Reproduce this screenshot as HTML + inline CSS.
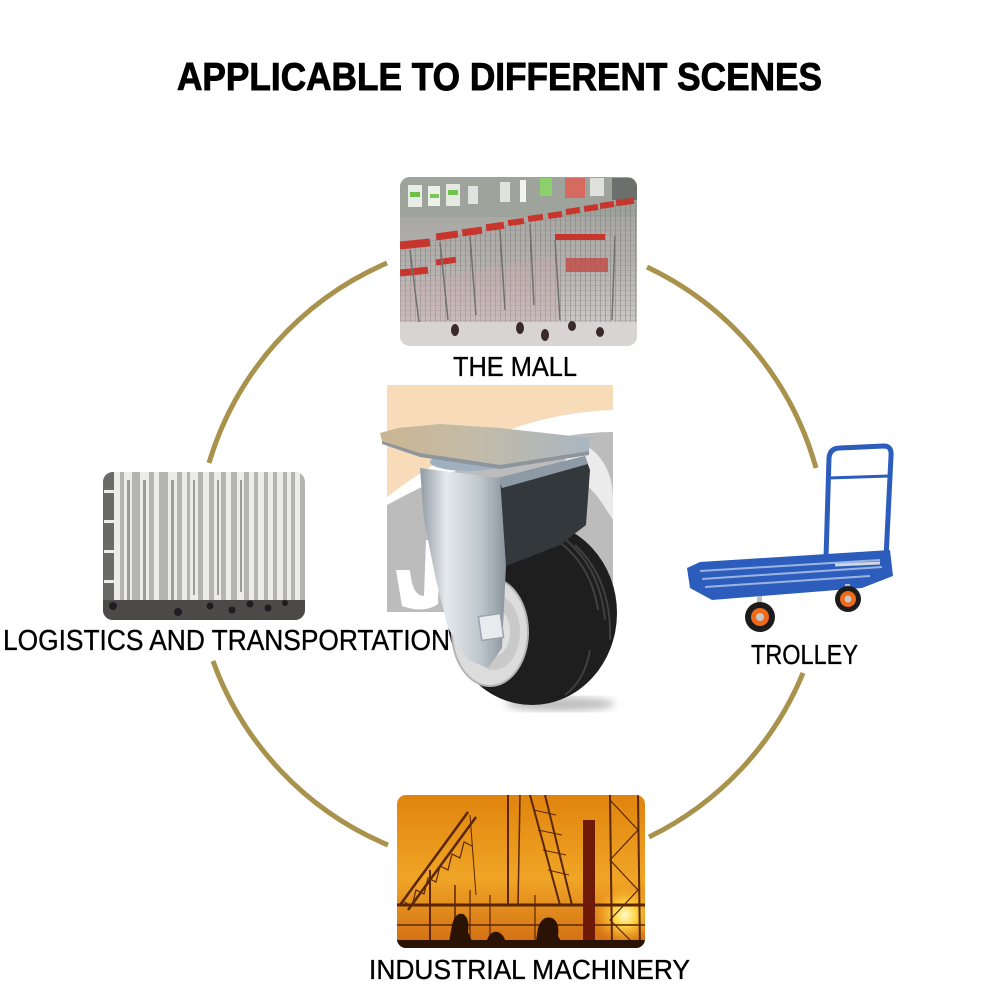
<!DOCTYPE html>
<html>
<head>
<meta charset="utf-8">
<style>
html,body{margin:0;padding:0;background:#fff;}
svg{display:block;}
text{font-family:"Liberation Sans",Arial,sans-serif;fill:#000;}
</style>
</head>
<body>
<svg width="1000" height="1000" viewBox="0 0 1000 1000" xmlns="http://www.w3.org/2000/svg">
<defs>
  <clipPath id="cm"><rect x="400" y="177" width="237" height="169" rx="10"/></clipPath>
  <clipPath id="cl"><rect x="103" y="472" width="202" height="148" rx="10"/></clipPath>
  <clipPath id="ci"><rect x="397" y="795" width="248" height="153" rx="9"/></clipPath>
  <clipPath id="cw"><rect x="387" y="385" width="226" height="227"/></clipPath>
  <linearGradient id="gi" x1="0" y1="0" x2="0" y2="1">
    <stop offset="0" stop-color="#e0840e"/>
    <stop offset="0.55" stop-color="#f0a526"/>
    <stop offset="1" stop-color="#d06a12"/>
  </linearGradient>
  <radialGradient id="sun" cx="0.5" cy="0.5" r="0.5">
    <stop offset="0" stop-color="#fffbd0"/>
    <stop offset="0.35" stop-color="#ffd848"/>
    <stop offset="1" stop-color="#ffb020" stop-opacity="0"/>
  </radialGradient>
  <linearGradient id="gm" x1="0" y1="0" x2="0" y2="1">
    <stop offset="0" stop-color="#9ea19a"/>
    <stop offset="0.5" stop-color="#b4b0ae"/>
    <stop offset="1" stop-color="#d4d0d0"/>
  </linearGradient>
  <pattern id="mesh" width="5" height="5" patternUnits="userSpaceOnUse">
    <rect width="5" height="5" fill="none"/>
    <line x1="0" y1="0" x2="0" y2="5" stroke="#7a7a7a" stroke-width="1"/>
    <line x1="0" y1="0" x2="5" y2="0" stroke="#8a8a8a" stroke-width="0.6"/>
  </pattern>
  <linearGradient id="plate" x1="0" y1="0" x2="1" y2="0">
    <stop offset="0" stop-color="#cbb692"/>
    <stop offset="0.45" stop-color="#c3bba8"/>
    <stop offset="1" stop-color="#a9b6c1"/>
  </linearGradient>
  <linearGradient id="fork" x1="0" y1="0" x2="1" y2="0">
    <stop offset="0" stop-color="#8f98a1"/>
    <stop offset="0.3" stop-color="#e4e9ee"/>
    <stop offset="0.7" stop-color="#bfc6cd"/>
    <stop offset="1" stop-color="#8a939c"/>
  </linearGradient>
  <filter id="blur"><feGaussianBlur stdDeviation="4"/></filter>
</defs>

<!-- Title -->
<text x="177" y="90" font-size="39" font-weight="bold" stroke="#000" stroke-width="0.9" textLength="645" lengthAdjust="spacingAndGlyphs">APPLICABLE TO DIFFERENT SCENES</text>

<!-- Circle arcs -->
<g fill="none" stroke="#a8924c" stroke-width="5">
  <path d="M387,263 A316,316 0 0 0 209,463"/>
  <path d="M647,267 A316,316 0 0 1 816,468"/>
  <path d="M803,673 A316,316 0 0 1 649,837"/>
  <path d="M388,845 A316,316 0 0 1 213,661"/>
</g>

<!-- Mall photo -->
<g clip-path="url(#cm)">
  <rect x="400" y="177" width="237" height="169" fill="url(#gm)"/>
  <rect x="400" y="177" width="237" height="40" fill="#9ea39b"/>
  <rect x="408" y="185" width="14" height="22" fill="#e8ece6"/>
  <rect x="410" y="192" width="10" height="5" fill="#6fbf4a"/>
  <rect x="428" y="186" width="12" height="20" fill="#eef0ea"/>
  <rect x="430" y="194" width="9" height="4" fill="#7cc657"/>
  <rect x="446" y="184" width="14" height="22" fill="#e5e9e2"/>
  <rect x="448" y="190" width="10" height="5" fill="#72c24e"/>
  <rect x="468" y="186" width="10" height="18" fill="#e0e4de"/>
  <rect x="500" y="182" width="10" height="20" fill="#dfe3dc"/>
  <rect x="520" y="180" width="6" height="22" fill="#f2f2f0"/>
  <rect x="540" y="178" width="12" height="18" fill="#8bd06a"/>
  <rect x="565" y="178" width="20" height="20" fill="#d56a60"/>
  <rect x="590" y="178" width="14" height="18" fill="#e0e0dc"/>
  <rect x="612" y="178" width="25" height="22" fill="#6d6f6c"/>
  <!-- wire mesh body -->
  <polygon points="400,245 637,200 637,325 400,335" fill="url(#mesh)" opacity="0.95"/>
  <polygon points="400,285 560,255 560,320 400,340" fill="#c9a5a5" opacity="0.35"/>
  <!-- red handles -->
  <g fill="#c8352c">
    <rect x="400" y="240" width="30" height="8" transform="rotate(-6 415 244)"/>
    <rect x="400" y="268" width="28" height="7" transform="rotate(-6 415 271)"/>
    <rect x="436" y="232" width="22" height="7" transform="rotate(-8 447 235)"/>
    <rect x="436" y="258" width="20" height="6" transform="rotate(-8 447 261)"/>
    <rect x="462" y="228" width="20" height="7" transform="rotate(-8 472 231)"/>
    <rect x="486" y="223" width="18" height="7" transform="rotate(-8 495 226)"/>
    <rect x="508" y="219" width="16" height="6" transform="rotate(-8 516 222)"/>
    <rect x="528" y="215" width="15" height="6" transform="rotate(-8 535 218)"/>
    <rect x="548" y="212" width="14" height="6" transform="rotate(-8 555 215)"/>
    <rect x="566" y="208" width="14" height="6" transform="rotate(-8 573 211)"/>
    <rect x="584" y="205" width="14" height="6" transform="rotate(-8 591 208)"/>
    <rect x="600" y="202" width="14" height="6" transform="rotate(-8 607 205)"/>
    <rect x="616" y="199" width="18" height="6" transform="rotate(-8 625 202)"/>
    <rect x="555" y="234" width="50" height="6"/>
    <rect x="566" y="258" width="42" height="14" fill="#c24a44" opacity="0.8"/>
  </g>
  <g stroke="#707070" stroke-width="1.5">
    <line x1="410" y1="250" x2="420" y2="330"/>
    <line x1="440" y1="242" x2="448" y2="320"/>
    <line x1="470" y1="236" x2="476" y2="315"/>
    <line x1="500" y1="230" x2="505" y2="310"/>
    <line x1="530" y1="224" x2="534" y2="305"/>
    <line x1="555" y1="240" x2="560" y2="320"/>
    <line x1="615" y1="236" x2="612" y2="320"/>
  </g>
  <rect x="400" y="322" width="237" height="24" fill="#d8d4d4"/>
  <g fill="#3a2a2a">
    <ellipse cx="455" cy="330" rx="4" ry="6"/>
    <ellipse cx="520" cy="328" rx="4" ry="6"/>
    <ellipse cx="545" cy="335" rx="4" ry="6"/>
    <ellipse cx="572" cy="326" rx="4" ry="5"/>
    <ellipse cx="600" cy="332" rx="4" ry="5"/>
  </g>
</g>

<!-- Logistics photo -->
<g clip-path="url(#cl)">
  <rect x="103" y="472" width="202" height="148" fill="#b4b4b2"/>
  <rect x="103" y="472" width="12" height="148" fill="#6a6a68"/>
  <g fill="#ececea">
    <rect x="104" y="490" width="12" height="3"/>
    <rect x="104" y="520" width="12" height="3"/>
    <rect x="104" y="550" width="12" height="3"/>
    <rect x="104" y="580" width="12" height="3"/>
    <rect x="114" y="472" width="6" height="130"/>
    <rect x="124" y="472" width="8" height="140"/>
    <rect x="140" y="472" width="9" height="140"/>
    <rect x="154" y="472" width="5" height="140"/>
    <rect x="168" y="472" width="9" height="140"/>
    <rect x="182" y="472" width="5" height="140"/>
    <rect x="190" y="472" width="8" height="135"/>
    <rect x="203" y="472" width="6" height="135"/>
    <rect x="214" y="472" width="7" height="135"/>
    <rect x="226" y="472" width="5" height="135"/>
    <rect x="237" y="472" width="7" height="132"/>
    <rect x="249" y="472" width="5" height="132"/>
    <rect x="258" y="472" width="6" height="130"/>
    <rect x="268" y="472" width="5" height="130"/>
    <rect x="277" y="472" width="6" height="128"/>
    <rect x="287" y="472" width="4" height="128"/>
    <rect x="295" y="472" width="5" height="128"/>
  </g>
  <g fill="#9c9c9a">
    <rect x="127" y="480" width="3" height="120"/>
    <rect x="143" y="480" width="3" height="120"/>
    <rect x="171" y="480" width="3" height="120"/>
    <rect x="193" y="480" width="2" height="115"/>
    <rect x="217" y="480" width="2" height="115"/>
    <rect x="240" y="480" width="2" height="112"/>
  </g>
  <rect x="103" y="600" width="202" height="20" fill="#4c4a48"/>
  <g fill="#1e1e22">
    <circle cx="113" cy="606" r="4"/>
    <circle cx="178" cy="612" r="4"/>
    <circle cx="210" cy="606" r="3.5"/>
    <circle cx="232" cy="610" r="3.5"/>
    <circle cx="250" cy="604" r="3.5"/>
    <circle cx="268" cy="608" r="3.5"/>
    <circle cx="285" cy="603" r="3"/>
  </g>
</g>

<!-- Industrial photo -->
<g clip-path="url(#ci)">
  <rect x="397" y="795" width="248" height="153" fill="url(#gi)"/>
  <circle cx="625" cy="915" r="30" fill="url(#sun)"/>
  <g stroke="#5a2606" fill="none">
    <path d="M400,905 L468,812 M408,910 L476,817" stroke-width="2.5"/>
    <path d="M404,902 L412,906 L416,890 L424,894 L428,878 L436,882 L440,866 L448,870 L452,854 L460,858 L464,842 L472,846" stroke-width="1.2"/>
    <line x1="470" y1="815" x2="476" y2="895" stroke-width="1"/>
    <line x1="508" y1="795" x2="508" y2="905" stroke-width="2"/>
    <line x1="520" y1="795" x2="518" y2="905" stroke-width="1.5"/>
    <path d="M530,795 L560,905 M545,795 L572,905" stroke-width="2"/>
    <path d="M534,810 L556,815 M538,830 L562,835 M543,850 L566,855 M548,870 L569,875" stroke-width="1"/>
    <path d="M610,795 L612,948 M638,795 L640,948" stroke-width="2"/>
    <path d="M610,800 L638,830 L610,860 L638,890 L610,920 L638,948" stroke-width="1.2"/>
    <line x1="397" y1="905" x2="645" y2="905" stroke-width="3"/>
    <line x1="397" y1="925" x2="645" y2="925" stroke-width="1.5"/>
    <line x1="430" y1="870" x2="430" y2="948" stroke-width="2"/>
    <line x1="455" y1="885" x2="455" y2="948" stroke-width="1.5"/>
    <line x1="470" y1="890" x2="470" y2="948" stroke-width="1.2"/>
    <line x1="490" y1="895" x2="490" y2="948" stroke-width="1.2"/>
    <line x1="535" y1="895" x2="535" y2="948" stroke-width="1.2"/>
  </g>
  <rect x="583" y="820" width="12" height="128" fill="#6e1a08"/>
  <g fill="#2a1204">
    <path d="M448,948 L452,925 Q455,912 463,914 Q470,918 468,932 L475,948 Z"/>
    <path d="M485,948 Q488,930 498,932 Q507,936 505,948 Z"/>
    <path d="M535,948 L538,928 Q542,915 552,918 Q560,922 558,936 L565,948 Z"/>
    <rect x="397" y="940" width="248" height="8"/>
  </g>
</g>

<!-- Watermark behind caster -->
<g clip-path="url(#cw)">
  <rect x="387" y="385" width="226" height="227" fill="#bcbcbc"/>
  <path d="M387,385 L613,385 L613,410 C540,412 460,440 387,497 Z" fill="#f8dbb8"/>
  <path d="M387,497 C460,440 540,412 613,410 L613,432 C545,432 470,460 387,505 Z" fill="#ffffff"/>
  <path d="M575,440 C600,450 613,470 613,500 L613,520 C600,500 590,480 560,470 Z" fill="#ffffff" opacity="0.7"/>
  <path d="M396,570 L410,570 Q412,596 424,596 L426,540 L440,540 L438,604 Q424,614 402,606 Z" fill="#ffffff"/>
</g>

<!-- Caster wheel -->
<ellipse cx="560" cy="704" rx="55" ry="7" fill="#888" opacity="0.55" filter="url(#blur)"/>
<ellipse cx="532" cy="613" rx="85" ry="92" fill="#1e1e1e"/>
<g stroke="#404040" stroke-width="2" fill="none">
  <path d="M560,535 Q600,565 605,620"/>
  <path d="M575,545 Q612,580 610,640"/>
  <path d="M540,530 Q590,555 598,610"/>
  <path d="M590,650 Q585,680 565,695"/>
</g>
<ellipse cx="490" cy="632" rx="38" ry="54" fill="#dcdcdc" stroke="#b4b4b4" stroke-width="2"/>
<ellipse cx="494" cy="632" rx="26" ry="38" fill="#c9c9c9"/>
<ellipse cx="494" cy="632" rx="16" ry="24" fill="#e0e0e0"/>
<!-- fork right dark side -->
<polygon points="498,478 585,456 590,470 586,525 560,545 506,566" fill="#33383d"/>
<polygon points="498,478 585,456 588,464 502,488" fill="#8e9aa5"/>
<!-- fork front silver -->
<polygon points="420,468 500,478 506,566 502,648 488,668 468,660 448,628 436,580 424,520" fill="url(#fork)"/>
<rect x="480" y="615" width="22" height="24" fill="#e8ecef" stroke="#9aa3ab" stroke-width="1.5" transform="rotate(-8 491 627)"/>
<!-- swivel -->
<ellipse cx="468" cy="462" rx="38" ry="9" fill="#9fb1c0"/>
<rect x="455" y="448" width="30" height="14" fill="#8ea4b6"/>
<!-- top plate -->
<polygon points="380,433 398,428 440,424 500,428 590,438 589,451 500,465 420,453 382,441" fill="url(#plate)"/>
<polygon points="382,441 420,453 500,465 589,451 589,455 500,469 420,457 382,444" fill="#8e969c"/>

<!-- Trolley -->
<g>
  <path d="M826,558 L829,458 Q830,448 840,448 L884,446 Q892,446 891,456 L886,558" fill="none" stroke="#2c5dbd" stroke-width="5"/>
  <line x1="828" y1="478" x2="889" y2="476" stroke="#2c5dbd" stroke-width="3"/>
  <polygon points="687,568 700,562 890,550 893,576 862,588 712,600 690,588" fill="#2c5dbd"/>
  <g stroke="#9bb3e0" stroke-width="2">
    <line x1="700" y1="571" x2="880" y2="560"/>
    <line x1="702" y1="579" x2="882" y2="567"/>
    <line x1="705" y1="587" x2="870" y2="576"/>
  </g>
  <line x1="835" y1="565" x2="880" y2="563" stroke="#d0d6de" stroke-width="3"/>
  <rect x="757" y="596" width="5" height="14" fill="#b8bec6"/>
  <rect x="845" y="584" width="5" height="12" fill="#b8bec6"/>
  <circle cx="760" cy="617" r="15" fill="#1c1c1c"/>
  <circle cx="760" cy="617" r="9" fill="#f06a1a"/>
  <circle cx="760" cy="617" r="4" fill="#c8c8c8"/>
  <circle cx="848" cy="599" r="13" fill="#1c1c1c"/>
  <circle cx="848" cy="599" r="8" fill="#f06a1a"/>
  <circle cx="848" cy="599" r="3.5" fill="#c8c8c8"/>
</g>

<!-- Labels -->
<g stroke="#000" stroke-width="0.35">
<text x="453" y="376" font-size="28" textLength="124" lengthAdjust="spacingAndGlyphs">THE MALL</text>
<text x="3" y="650" font-size="29" textLength="447" lengthAdjust="spacingAndGlyphs">LOGISTICS AND TRANSPORTATION</text>
<text x="751" y="664" font-size="28" textLength="107" lengthAdjust="spacingAndGlyphs">TROLLEY</text>
<text x="369" y="979" font-size="28" textLength="321" lengthAdjust="spacingAndGlyphs">INDUSTRIAL MACHINERY</text>
</g>
</svg>
</body>
</html>
